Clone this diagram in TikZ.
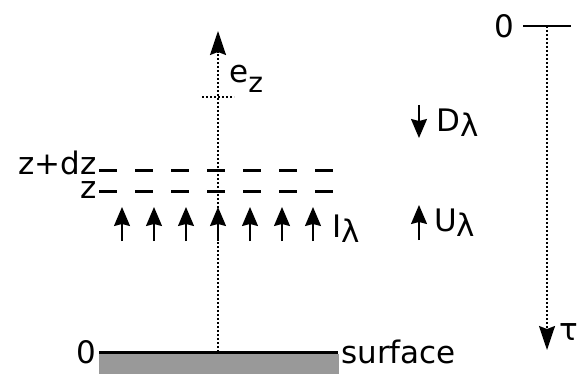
\documentclass[tikz,border=0pt]{standalone}
\usepackage{fontspec}
\setmainfont{DejaVu Sans}
\usetikzlibrary{arrows.meta}
\newcommand{\lam}{\raisebox{-5pt}{\fontsize{31}{31}\selectfont λ}}
\newcommand{\subz}{\raisebox{-10pt}{\fontsize{28}{28}\selectfont z}}
\begin{document}
\begin{tikzpicture}[x=1pt,y=-1pt,
  lbl/.style={inner sep=0pt,font=\fontsize{31}{31}\selectfont},
  dotax/.style={line width=1.6pt,dash pattern=on 2.2pt off 1.8pt},
  bigtip/.style={-{Stealth[length=24pt,width=16pt,inset=3pt]}},
  smalltip/.style={-{Stealth[length=19pt,width=16pt,inset=2pt]},line width=1.6pt},
  layer/.style={line width=3pt,dash pattern=on 18pt off 18pt}]
\useasboundingbox (0,0) rectangle (578,374);
% surface
\fill[black!40] (99,354) rectangle (339,374);
\coordinate (s1) at (99,352);
\coordinate (s2) at (338,352);
\draw[line width=3pt] (s1) -- (s2);
\node[lbl,anchor=base east] (zero) at (96,363) {0};
\node[lbl,anchor=base west] (surf) at (341,363) {surface};
% vertical axis
\coordinate (ax0) at (218,352);
\coordinate (ax1) at (218,31);
\draw[dotax,bigtip] (ax0) -- (ax1);
\coordinate (t1) at (202,97);
\coordinate (t2) at (234,97);
\draw[line width=1.3pt,dash pattern=on 2pt off 2pt] (t1) -- (t2);
\node[lbl,anchor=base west] (ez) at (229,83) {e\subz};
% layers
\coordinate (l1a) at (99,171);
\coordinate (l1b) at (336,171);
\coordinate (l2a) at (99,192);
\coordinate (l2b) at (336,192);
\draw[layer] (l1a) -- (l1b);
\draw[layer] (l2a) -- (l2b);
\node[lbl,anchor=base east] (zdz) at (97,175) {z+dz};
\node[lbl,anchor=base east] (z) at (97,199) {z};
% upward intensities
\foreach \i/\x in {1/122,2/154,3/186,4/218,5/250,6/282,7/313}{
  \coordinate (ua\i) at (\x,241);
  \coordinate (ub\i) at (\x,207);
  \draw[smalltip] (ua\i) -- (ub\i);
}
\node[lbl,anchor=base west] (il) at (332,237) {I\lam};
% D and U
\coordinate (da) at (419,105);
\coordinate (db) at (419,138);
\draw[smalltip] (da) -- (db);
\node[lbl,anchor=base west] (dl) at (436,132) {D\lam};
\coordinate (ua) at (419,240);
\coordinate (ub) at (419,205);
\draw[smalltip] (ua) -- (ub);
\node[lbl,anchor=base west] (ul) at (434,232) {U\lam};
% tau axis
\node[lbl,anchor=base east] (tz) at (514,38) {0};
\coordinate (h1) at (523,26);
\coordinate (h2) at (571,26);
\draw[line width=1.3pt] (h1) -- (h2);
\coordinate (tau0) at (547,26);
\coordinate (tau1) at (547,350);
\draw[dotax,bigtip] (tau0) -- (tau1);
\node[lbl,anchor=base west] (tl) at (559,340) {τ};
\end{tikzpicture}
\end{document}
